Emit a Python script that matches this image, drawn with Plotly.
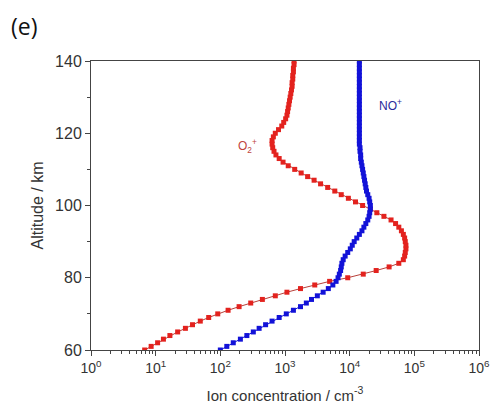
import plotly.graph_objects as go

# Altitude grid (km)
altitude_km = list(range(60, 141))

# log10 of O2+ concentration (cm^-3), one per km 60..140
o2_log10 = [
    0.83, 0.93, 1.03, 1.12, 1.22, 1.34, 1.46, 1.57, 1.69, 1.82,   # 60-69
    1.96, 2.12, 2.29, 2.47, 2.65, 2.85, 3.03, 3.24, 3.46, 3.69,   # 70-79
    3.97, 4.21, 4.41, 4.61, 4.76, 4.83, 4.85, 4.86, 4.87, 4.87,   # 80-89
    4.86, 4.85, 4.83, 4.80, 4.76, 4.71, 4.64, 4.53, 4.42, 4.32,   # 90-99
    4.20, 4.09, 3.98, 3.87, 3.77, 3.66, 3.55, 3.45, 3.35, 3.25,   # 100-109
    3.15, 3.05, 2.97, 2.91, 2.86, 2.83, 2.81, 2.80, 2.80, 2.82,   # 110-119
    2.85, 2.90, 2.95, 2.98, 3.01, 3.03, 3.04, 3.05, 3.06, 3.07,   # 120-129
    3.08, 3.09, 3.10, 3.11, 3.11, 3.12, 3.12, 3.13, 3.13, 3.14,   # 130-139
    3.14,                                                         # 140
]

# log10 of NO+ concentration (cm^-3), one per km 60..140
no_log10 = [
    2.00, 2.10, 2.20, 2.31, 2.41, 2.51, 2.60, 2.70, 2.80, 2.91,   # 60-69
    3.02, 3.13, 3.24, 3.33, 3.41, 3.50, 3.59, 3.67, 3.74, 3.79,   # 70-79
    3.82, 3.84, 3.86, 3.87, 3.88, 3.90, 3.93, 3.97, 4.01, 4.04,   # 80-89
    4.07, 4.11, 4.15, 4.19, 4.22, 4.25, 4.28, 4.30, 4.31, 4.32,   # 90-99
    4.32, 4.31, 4.30, 4.28, 4.26, 4.25, 4.24, 4.23, 4.22, 4.21,   # 100-109
    4.20, 4.19, 4.18, 4.17, 4.17, 4.16, 4.16, 4.15, 4.15, 4.15,   # 110-119
    4.15, 4.15, 4.15, 4.15, 4.15, 4.15, 4.15, 4.15, 4.15, 4.15,   # 120-129
    4.15, 4.15, 4.15, 4.15, 4.15, 4.15, 4.15, 4.15, 4.15, 4.15,   # 130-139
    4.15,                                                         # 140
]

x_tick_vals = [1, 10, 100, 1000, 10000, 100000, 1000000]
x_tick_text = ["10<sup>0</sup>", "10<sup>1</sup>", "10<sup>2</sup>", "10<sup>3</sup>",
               "10<sup>4</sup>", "10<sup>5</sup>", "10<sup>6</sup>"]
y_tick_vals = [60, 80, 100, 120, 140]

o2_conc = [10 ** v for v in o2_log10]
no_conc = [10 ** v for v in no_log10]

RED = "#e3221e"
BLUE = "#1212d8"

fig = go.Figure()
fig.add_trace(go.Scatter(
    x=o2_conc, y=altitude_km, mode="lines+markers", name="O2+",
    line=dict(color="#b8403a", width=1),
    marker=dict(symbol="square", size=5, color=RED, line=dict(width=0)),
))
fig.add_trace(go.Scatter(
    x=no_conc, y=altitude_km, mode="lines+markers", name="NO+",
    line=dict(color=BLUE, width=1),
    marker=dict(symbol="square", size=5, color=BLUE, line=dict(width=0)),
))

minor_x = [m * 10 ** d for d in range(0, 6) for m in range(2, 10)]

fig.update_layout(
    width=502, height=413,
    margin=dict(l=91, r=14, t=61, b=60),
    paper_bgcolor="white", plot_bgcolor="white",
    showlegend=False,
    font=dict(family="Liberation Sans, Arial, sans-serif", color="#333333", size=14),
    xaxis=dict(
        type="log", range=[0, 6],
        tickvals=x_tick_vals, ticktext=x_tick_text,
        ticks="outside", ticklen=5, tickcolor="#444", tickwidth=1,
        showline=True, linecolor="#444", linewidth=1, mirror=True,
        showgrid=False, zeroline=False,
        minor=dict(tickvals=minor_x, ticks="outside", ticklen=3, tickcolor="#444", showgrid=False),
        tickfont=dict(size=14, color="#333"),
        title=dict(text="Ion concentration / cm<sup>-3</sup>", font=dict(size=15, color="#333"), standoff=15),
    ),
    yaxis=dict(
        range=[60, 140],
        tickvals=y_tick_vals,
        ticks="outside", ticklen=5, tickcolor="#444", tickwidth=1,
        showline=True, linecolor="#444", linewidth=1, mirror=True,
        showgrid=False, zeroline=False,
        minor=dict(dtick=10, ticks="outside", ticklen=3, tickcolor="#444", showgrid=False),
        tickfont=dict(size=16, color="#333"),
        title=dict(text="Altitude / km", font=dict(size=16, color="#333"), standoff=7),
    ),
    annotations=[
        dict(text="(e)", xref="paper", yref="paper", x=-0.211, y=1.12,
             xanchor="left", yanchor="middle", showarrow=False,
             font=dict(size=23, color="#111", family="Open Sans, sans-serif")),
        dict(text="O<sub>2</sub><sup>+</sup>", xref="x", yref="y",
             x=2.6, y=116.6, xanchor="right", yanchor="middle", showarrow=False,
             font=dict(size=12, color="#c0443c")),
        dict(text="NO<sup>+</sup>", xref="x", yref="y",
             x=4.42, y=127.9, xanchor="left", yanchor="middle", showarrow=False,
             font=dict(size=12, color="#2a2a9a")),
    ],
)

fig.write_html(
    "out.html",
    config={"displayModeBar": False},
    post_script="document.body.style.margin='0';document.body.style.overflow='hidden';",
)
